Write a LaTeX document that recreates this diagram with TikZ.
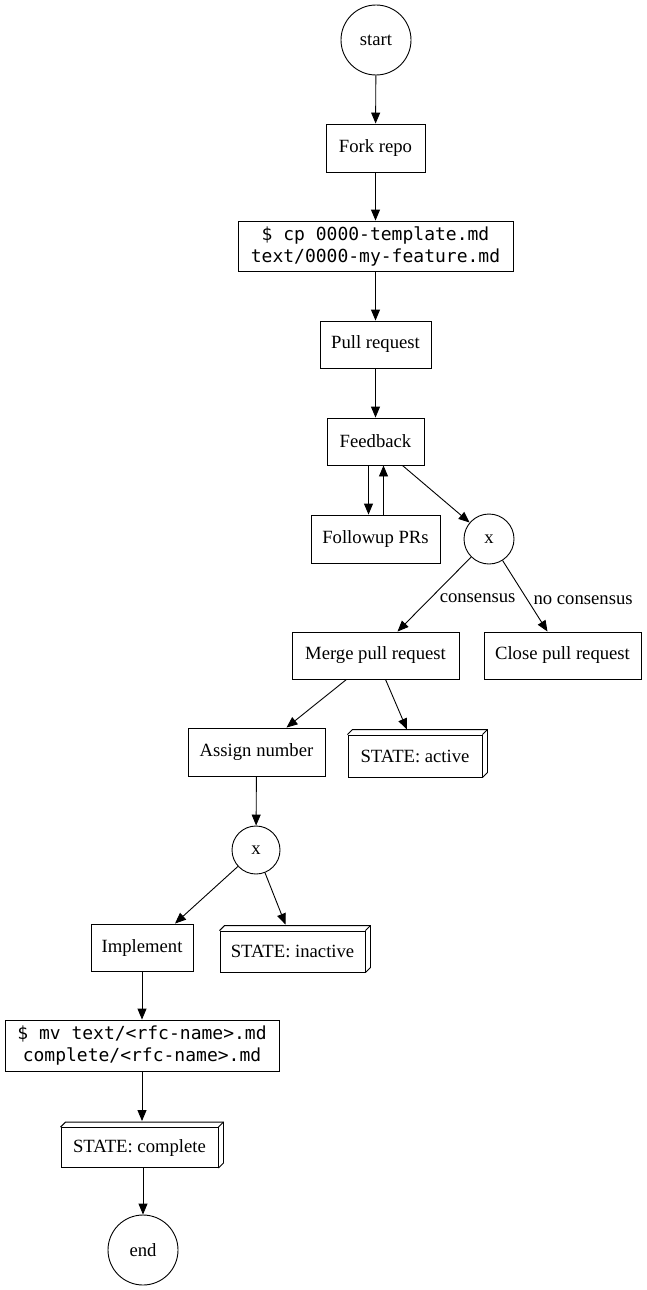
\documentclass[tikz,border=0pt]{standalone}
\usepackage{fontspec}
\setmainfont{Liberation Serif}
\setmonofont{DejaVu Sans Mono}
\usetikzlibrary{arrows.meta}
\newcommand\boxthreed[1]{%
  \draw (#1.north west) -- ++(5pt,5pt) -- ([shift={(5pt,5pt)}]#1.north east) -- ([shift={(5pt,5pt)}]#1.south east) -- (#1.south east);
  \draw (#1.north east) -- ++(5pt,5pt);}
\begin{document}
\begin{tikzpicture}[x=1pt,y=-1pt,line width=0.9pt,
  every node/.style={font=\fontsize{18.67}{22}\selectfont},
  rbox/.style={draw,rectangle,inner sep=0pt},
  cbox/.style={draw,circle,inner sep=0pt},
  codebox/.style={draw,rectangle,inner sep=0pt,align=center,font=\fontsize{18}{22}\ttfamily},
  arr/.style={-{Triangle[length=11pt,width=9pt]}},
  lbl/.style={font=\fontsize{18.67}{22}\selectfont}]
\useasboundingbox (0,0) rectangle (647,1290);
\node[cbox,minimum size=70pt] (start) at (376,40) {start};
\node[rbox,minimum width=99pt,minimum height=48pt] (fork) at (375.5,148) {Fork repo};
\node[codebox,minimum width=275pt,minimum height=50pt] (cp) at (375.5,246) {\$ cp 0000-template.md\\text/0000-my-feature.md};
\node[rbox,minimum width=111pt,minimum height=47pt] (pull) at (375.5,344.5) {Pull request};
\node[rbox,minimum width=97pt,minimum height=47pt] (fb) at (375.5,441.5) {Feedback};
\node[rbox,minimum width=129pt,minimum height=48pt] (fu) at (375.5,539) {Followup PRs};
\node[cbox,minimum size=50pt] (x1) at (489,539) {x};
\node[rbox,minimum width=167pt,minimum height=47pt] (merge) at (375.5,655.5) {Merge pull request};
\node[rbox,minimum width=157pt,minimum height=47pt] (close) at (562.5,655.5) {Close pull request};
\node[rbox,minimum width=137pt,minimum height=48pt] (assign) at (256.5,752) {Assign number};
\node[rbox,minimum width=134pt,minimum height=42pt] (active) at (415,756) {STATE: active};
\boxthreed{active}
\node[cbox,minimum size=48pt] (x2) at (256,850) {x};
\node[rbox,minimum width=102pt,minimum height=47pt] (impl) at (142,947.5) {Implement};
\node[rbox,minimum width=145pt,minimum height=41pt] (inactive) at (292.5,951.5) {STATE: inactive};
\boxthreed{inactive}
\node[codebox,minimum width=274pt,minimum height=51pt] (mv) at (142,1045.5) {\$ mv text/<rfc-name>.md\\complete/<rfc-name>.md};
\node[rbox,minimum width=157pt,minimum height=40pt] (complete) at (139.5,1147.5) {STATE: complete};
\boxthreed{complete}
\node[cbox,minimum size=70pt] (end) at (143,1250) {end};

\draw[arr] (start) -- (fork);
\draw[arr] (fork) -- (cp);
\draw[arr] (cp) -- (pull);
\draw[arr] (pull) -- (fb);
\draw[arr] ([xshift=-7pt]fb.south) -- ([xshift=-7pt]fu.north);
\draw[arr] ([xshift=8pt]fu.north) -- ([xshift=8pt]fb.south);
\draw[arr] (fb.south east) ++(-22pt,0) coordinate (fbo) (fbo) -- (x1);
\draw[arr] (x1) -- node[lbl,right,pos=0.45,xshift=-2pt,yshift=-8pt] {consensus} ([xshift=22pt]merge.north);
\draw[arr] (x1) -- node[lbl,right,pos=0.45,xshift=7pt,yshift=-8pt] {no consensus} ([xshift=-15pt]close.north);
\draw[arr] ([xshift=-29pt]merge.south) -- ([xshift=30pt]assign.north);
\draw[arr] ([xshift=10pt]merge.south) -- ([shift={(-8pt,5pt)}]active.north);
\draw[arr] (assign) -- (x2);
\draw[arr] (x2) -- ([xshift=33pt]impl.north);
\draw[arr] (x2) -- ([shift={(-7pt,6pt)}]inactive.north);
\draw[arr] (impl) -- (mv);
\draw[arr] (mv.south -| complete.north) ++(2.5pt,0) coordinate (mvo) (mvo) -- ([shift={(2.5pt,6pt)}]complete.north);
\draw[arr] ([xshift=3.5pt]complete.south) -- (end);
\end{tikzpicture}
\end{document}
